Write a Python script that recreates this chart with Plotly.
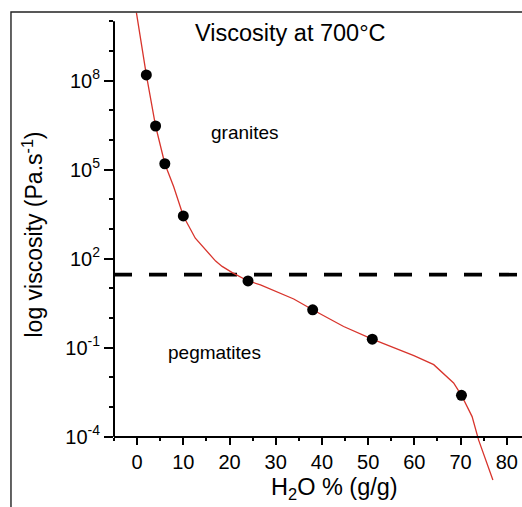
import plotly.graph_objects as go

# ---- data ----
curve_h2o = [-0.15, 2, 4, 6, 7.9, 10, 12.6, 15.2, 17, 18.4, 20.6, 24, 26.7, 33.9,
             38, 44.7, 50.9, 59.9, 64.2, 68.5, 70.2, 72.5, 73.9, 77]
curve_visc = [1.95e10, 1.55e8, 2.95e6, 1.58e5, 2.7e4, 2.75e3, 490, 178, 83, 55, 34,
              17.8, 13.2, 4.4, 1.9, 0.52, 0.195, 0.054, 0.027, 6.5e-3, 2.5e-3,
              4.8e-4, 7.9e-5, 3.5e-6]
point_h2o = [2, 4, 6, 10, 24, 38, 50.9, 70.2]
point_visc = [1.55e8, 2.95e6, 1.58e5, 2.75e3, 17.8, 1.9, 0.195, 2.5e-3]
threshold_visc = 29

x_major = [0, 10, 20, 30, 40, 50, 60, 70, 80]
x_labels = ["0", "10", "20", "30", "40", "50", "60", "70", "80"]
y_major = [1e-4, 1e-1, 1e2, 1e5, 1e8]
y_labels = ["10<sup>-4</sup>", "10<sup>-1</sup>", "10<sup>2</sup>", "10<sup>5</sup>", "10<sup>8</sup>"]
y_minor = [1e-3, 1e-2, 1e0, 1e1, 1e3, 1e4, 1e6, 1e7, 1e9, 1e10]

FONT = "Arial, 'Liberation Sans', sans-serif"

fig = go.Figure()
fig.add_trace(go.Scatter(x=curve_h2o, y=curve_visc, mode="lines",
                         line=dict(color="#d8342c", width=1.3), hoverinfo="skip"))
fig.add_trace(go.Scatter(x=point_h2o, y=point_visc, mode="markers",
                         marker=dict(color="black", size=11), cliponaxis=False))

# threshold dashed line
fig.add_shape(type="line", xref="paper", x0=0, x1=1, yref="y",
              y0=threshold_visc, y1=threshold_visc, layer="below",
              line=dict(color="black", width=3.6, dash="18px,17px"))
# y axis line (only spanning 1e-4 .. 1e10)
fig.add_shape(type="line", xref="paper", x0=0, x1=0, yref="y",
              y0=y_major[0], y1=y_minor[-1], line=dict(color="black", width=2))
# outer frame
fig.add_shape(type="rect", xref="paper", yref="paper", x0=-0.2525, x1=1.1,
              y0=-0.2, y1=1.0, line=dict(color="#222", width=1.4))

def note(text, x, y, size, angle=0):
    return dict(text=text, xref="paper", yref="paper", x=x, y=y,
                xanchor="center", yanchor="middle", textangle=angle,
                showarrow=False, font=dict(size=size))

fig.update_layout(
    width=522, height=507,
    margin=dict(l=114, r=0, t=12, b=20, autoexpand=False),
    paper_bgcolor="white", plot_bgcolor="white",
    showlegend=False,
    font=dict(family=FONT, color="black", size=20),
    xaxis=dict(range=[-5, 83.3], anchor="free", position=0.1056,
               showline=True, linecolor="black", linewidth=2,
               showgrid=False, zeroline=False, automargin=False,
               tickmode="array", tickvals=x_major, ticktext=x_labels,
               ticks="outside", ticklen=7, tickwidth=2, tickcolor="black",
               tickfont=dict(size=20), ticklabeloverflow="allow",
               minor=dict(dtick=5, tick0=0, ticks="outside", ticklen=3,
                          tickwidth=1.5, tickcolor="black")),
    yaxis=dict(type="log", range=[-5.69, 10.31], showline=False,
               showgrid=False, zeroline=False, automargin=False,
               tickmode="array", tickvals=y_major, ticktext=y_labels,
               ticks="outside", ticklen=9, tickwidth=2, tickcolor="black",
               tickfont=dict(size=20),
               minor=dict(tickmode="array", tickvals=y_minor, ticks="outside",
                          ticklen=4, tickwidth=1.5, tickcolor="black")),
    annotations=[
        note("Viscosity at 700°C", 0.4326, 0.9558, 23.5),
        note("granites", 0.3223, 0.7453, 19),
        note("pegmatites", 0.2475, 0.2842, 19),
        note("H<sub>2</sub>O % (g/g)", 0.5414, -0.004, 23.5),
        note("log viscosity (Pa.s<sup>-1</sup>)", -0.1985, 0.5316, 23, -90),
    ],
)

fig.write_html(
    "out.html",
    config={"displayModeBar": False},
    post_script="document.body.style.margin='0';document.body.style.overflow='hidden';",
)
